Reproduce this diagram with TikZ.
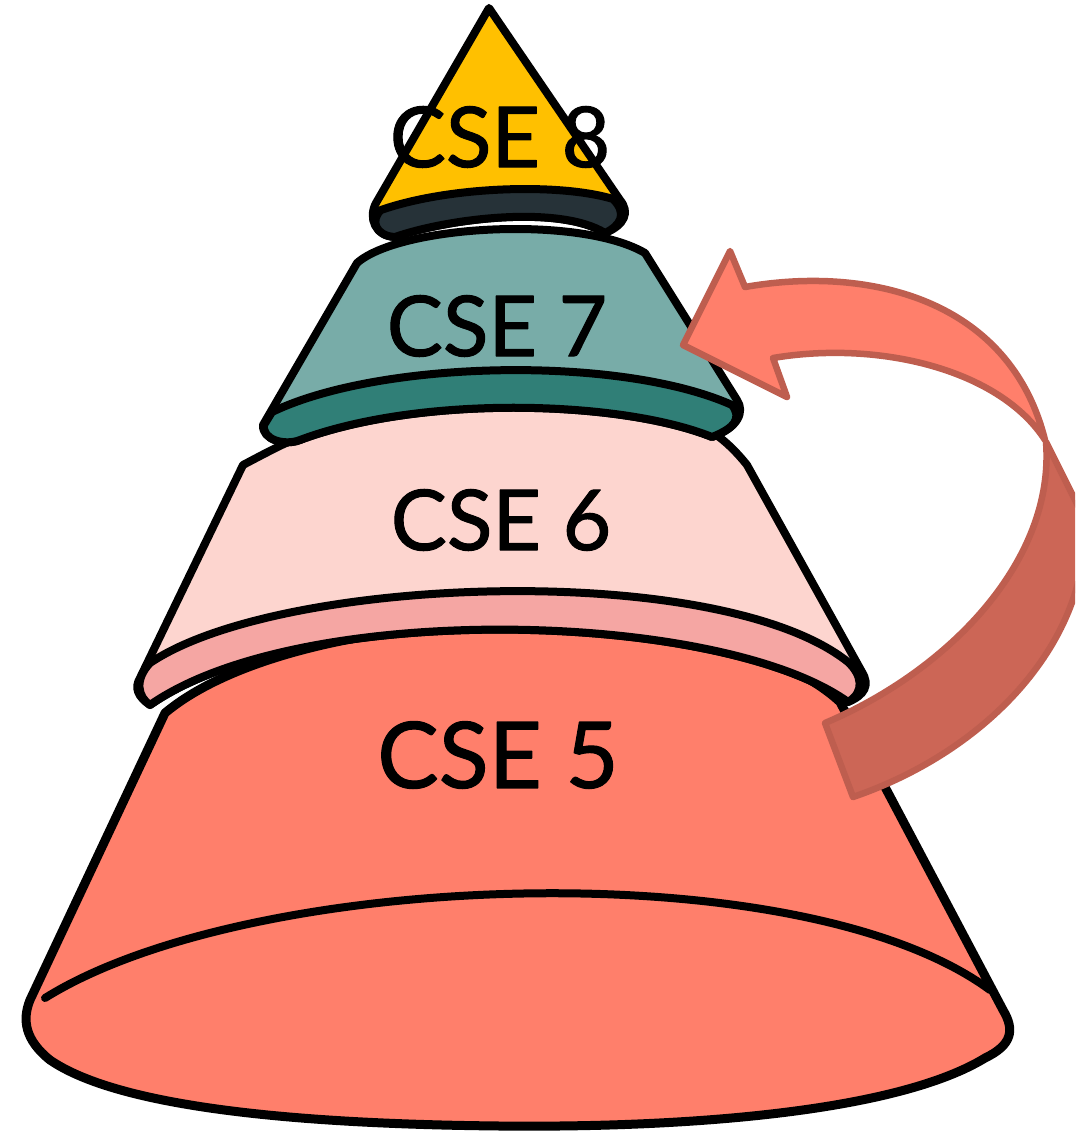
\documentclass[tikz,border=0pt]{standalone}
\usepackage{fontspec}
\setmainfont{Lato}
\newfontfamily\lblfont[FakeBold=1.2]{Lato}
\definecolor{cyel}{HTML}{FFC000}
\definecolor{cdark}{HTML}{263238}
\definecolor{ctealL}{HTML}{78ACA8}
\definecolor{ctealD}{HTML}{307F77}
\definecolor{cpinkL}{HTML}{FDD5CF}
\definecolor{cpinkM}{HTML}{F5A6A3}
\definecolor{csalmon}{HTML}{FF7F6B}
\definecolor{carrD}{HTML}{CC6656}
\definecolor{carrB}{HTML}{BE5E4F}
\begin{document}
\begin{tikzpicture}[x=1pt,y=-1pt,line join=round,line cap=round,
  outl/.style={draw=black,line width=8pt},
  arr/.style={draw=carrB,line width=6.5pt},
  lbl/.style={font=\lblfont\fontsize{84}{90}\selectfont,inner sep=0pt,text=black}]
\useasboundingbox (0,0) rectangle (1075,1131);
\clip (0,0) rectangle (1075,1131);

% ---------- CSE 5 ----------
\path[outl,fill=csalmon,line width=9pt]
  (165,713) .. controls (300,600) and (720,590) .. (840,702)
  -- (1003,1010) .. controls (1015,1030) and (1012,1045) .. (985,1058)
  .. controls (900,1110) and (700,1128) .. (500,1126)
  .. controls (300,1124) and (120,1108) .. (50,1060)
  .. controls (25,1040) and (22,1020) .. (30,1000) -- cycle;
\draw[black,line width=8pt] (45,998) .. controls (250,870) and (800,850) .. (990,990);

% ---------- CSE 6 ----------
\path[outl,fill=cpinkL]
  (243,465) .. controls (275,448) and (300,435) .. (330,425)
  .. controls (420,395) and (600,390) .. (700,425)
  .. controls (720,435) and (735,450) .. (747,465)
  -- (862,672) .. controls (870,685) and (865,695) .. (848,702)
  .. controls (720,610) and (300,600) .. (150,705)
  .. controls (138,697) and (134,688) .. (140,678) -- cycle;
\path[outl,fill=cpinkM]
  (150,663) .. controls (280,575) and (720,560) .. (848,662)
  .. controls (862,675) and (865,692) .. (848,702)
  .. controls (720,610) and (300,600) .. (150,705)
  .. controls (138,697) and (134,680) .. cycle;

% ---------- CSE 7 ----------
\path[outl,fill=ctealL]
  (357,263) .. controls (400,225) and (580,215) .. (645,253)
  -- (737,400) .. controls (745,412) and (738,428) .. (712,437)
  .. controls (620,400) and (420,395) .. (300,440)
  .. controls (285,446) and (262,440) .. (263,425) -- cycle;
\path[outl,fill=ctealD]
  (272,412) .. controls (380,360) and (620,355) .. (732,405)
  .. controls (742,418) and (735,428) .. (712,437)
  .. controls (620,400) and (420,395) .. (300,440)
  .. controls (285,446) and (262,440) .. (264,425) -- cycle;

% ---------- CSE 8 ----------
\path[outl,fill=cyel]
  (489,8) -- (376,203) .. controls (368,218) and (375,236) .. (395,237)
  .. controls (450,218) and (560,205) .. (605,233)
  .. controls (625,225) and (630,212) .. (620,200) -- cycle;
\path[outl,fill=cdark]
  (381,210) .. controls (450,186) and (560,183) .. (613,199)
  .. controls (628,214) and (620,226) .. (605,233)
  .. controls (560,205) and (450,218) .. (395,237)
  .. controls (375,236) and (370,220) .. cycle;

% ---------- labels ----------
\node[lbl] (t8) at (500,137) {CSE 8};
\node[lbl] (t7) at (497,326) {CSE 7};
\node[lbl] (t6) at (501,520) {CSE 6};
\node[lbl,font=\lblfont\fontsize{92}{96}\selectfont] (t5) at (498,755) {CSE 5};

% ---------- arrow ----------
\path[arr,fill=carrD]
  (1046,442) .. controls (1055,560) and (950,670) .. (825,723)
  -- (853,797) .. controls (990,750) and (1090,640) .. (1085,520) -- cycle;
\path[arr,fill=csalmon]
  (773,358) -- (787,397) -- (683,345) -- (730,251) -- (745,287)
  .. controls (870,265) and (1010,300) .. (1045,440)
  .. controls (1000,370) and (880,340) .. cycle;
\end{tikzpicture}
\end{document}
